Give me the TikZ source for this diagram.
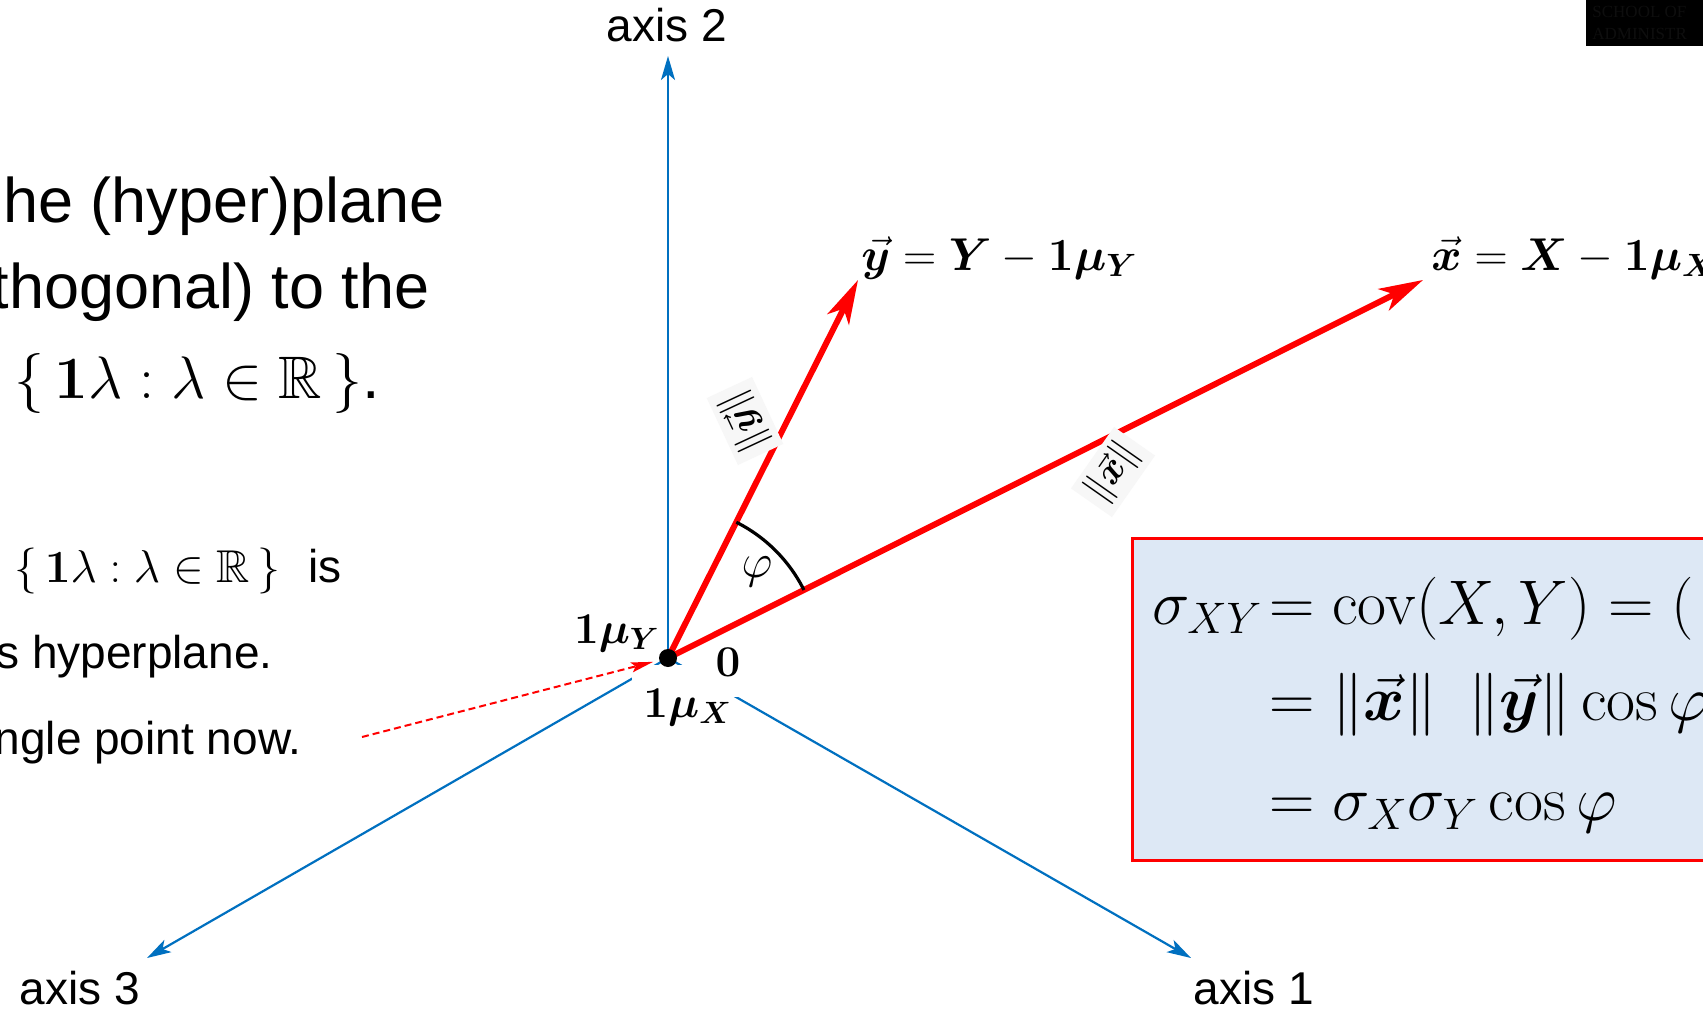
\RequirePackage{fix-cm}
\documentclass[tikz,border=0pt]{standalone}
\usepackage{amsmath,amssymb,bm}
\usepackage[no-math]{fontspec}
\setmainfont{Liberation Sans}
\newfontfamily\capserif{Liberation Serif}
\usetikzlibrary{arrows.meta}
\definecolor{axisblue}{RGB}{0,112,192}
\definecolor{boxfill}{RGB}{221,232,245}
\definecolor{vred}{RGB}{255,0,0}
\definecolor{logotext}{RGB}{14,14,14}
\newcommand\fsz[1]{\fontsize{#1}{#1}\selectfont}
\begin{document}
\begin{tikzpicture}[x=0.5pt,y=-0.5pt,
  axisline/.style={draw=axisblue,line width=1.1pt,-{Stealth[length=12pt,width=7pt,inset=3pt]}},
  vecline/.style={draw=vred,line width=3pt,-{Stealth[length=22pt,width=12pt,inset=6pt]}},
  dasharrow/.style={draw=vred,line width=1pt,dash pattern=on 3.5pt off 2pt,shorten >=3pt,-{Stealth[length=11pt,width=5pt,inset=2pt]}},
  axlabel/.style={font=\fsz{23pt},inner sep=0pt,anchor=base},
  bigtext/.style={font=\fsz{31.5pt},inner sep=0pt,anchor=base east},
  midtext/.style={font=\fsz{23pt},inner sep=0pt,anchor=base east},
  eqtext/.style={font=\fsz{31.5pt},inner sep=0pt,anchor=base west},
  ptlabel/.style={font=\fsz{22pt},inner sep=0pt},
  veclabel/.style={font=\fsz{23pt},inner sep=0pt,anchor=base west},
  normlabel/.style={font=\fsz{19pt},fill=white!97!black,inner sep=3pt},
  logolabel/.style={font=\capserif\fsz{8.5pt},text=logotext,inner sep=0pt,anchor=base west},
]
\useasboundingbox (0,0) rectangle (1703,1011);
\clip (0,0) rectangle (1703,1011);
\fill[white] (0,0) rectangle (1703,1011);

% left texts
\node[bigtext] (t1) at (445,222) {he (hyper)plane};
\node[bigtext] (t2) at (430,308) {thogonal) to the};
\node[bigtext] (t3) at (380,398) {{\fsz{30pt}$\{\,\mathbf{1}\lambda : \lambda \in \mathbb{R}\,\}$}.};
\node[midtext] (t4) at (342,582) {$\{\,\mathbf{1}\lambda : \lambda\in\mathbb{R}\,\}$\hspace{14pt}is};
\node[midtext] (t5) at (273,668) {s hyperplane.};
\node[midtext] (t6) at (302,754) {ngle point now.};

% top-right dark block
\node[fill=black,inner sep=0pt,minimum width=62pt,minimum height=23pt,anchor=north west] (logo) at (1586,0) {};
\node[logolabel] (logo1) at (1592,18) {SCHOOL OF};
\node[logolabel] (logo2) at (1592,40) {ADMINISTR};

% coordinates
\coordinate (O) at (668,658);
\coordinate (A1) at (1191,958);
\coordinate (A2) at (668,56);
\coordinate (A3) at (147,958);
\coordinate (Y) at (858,280);
\coordinate (X) at (1423,280);
\coordinate (dstart) at (362,737);

% axes
\draw[axisline] (O) -- (A1);
\draw[axisline] (O) -- (A2);
\draw[axisline] (O) -- (A3);
\node[axlabel] (l2) at (667,42) {axis 2};
\node[axlabel] (l3) at (80,1004) {axis 3};
\node[axlabel] (l1) at (1254,1004) {axis 1};

% label backgrounds near the origin
\fill[white] (632,665) rectangle (726,740);
\fill[white] (686,641) rectangle (746,697);
\node[ptlabel,anchor=base east] (muY) at (660,643) {$\mathbf{1}\bm{\mu}_{\bm{Y}}$};
\node[ptlabel,anchor=base west] (muX) at (643,717) {$\mathbf{1}\bm{\mu}_{\bm{X}}$};
\node[ptlabel,anchor=base] (zero) at (728,676) {$\mathbf{0}$};

% vectors
\draw[vecline] (O) -- (Y);
\draw[vecline] (O) -- (X);
\draw[line width=1.6pt] plot[domain=26.6:63.3,samples=40] ({668+152*cos(\x)},{658-152*sin(\x)});
\node[font=\fsz{24pt},inner sep=0pt] (phi) at (757,572) {$\varphi$};
\node[normlabel,rotate=115] (ny) at (745,421) {$\|\vec{\bm y}\|$};
\node[normlabel,rotate=55] (nx) at (1113,472) {$\|\vec{\bm x}\|$};
\node[veclabel] (ylab) at (861,270) {$\vec{\bm y} = \bm{Y} - \mathbf{1}\bm{\mu}_{\bm Y}$};
\node[veclabel] (xlab) at (1431,270) {$\vec{\bm x} = \bm{X} - \mathbf{1}\bm{\mu}_{\bm X}$};

% origin dot and dashed pointer
\node[circle,fill=black,inner sep=0pt,minimum size=9pt] (dot) at (O) {};
\draw[dasharrow] (dstart) -- (dot);

% covariance box
\node[draw=vred,line width=1.5pt,fill=boxfill,inner sep=0pt,minimum width=300pt,minimum height=161pt,anchor=north west] (box) at (1131,537) {};
\node[eqtext] (e0) at (1152,624) {$\sigma_{XY}$};
\node[eqtext] (e1) at (1269,624) {$= \mathrm{cov}(X,Y) = ($};
\node[eqtext] (e2) at (1269,720) {$= \|\vec{\bm x}\|\enspace\|\vec{\bm y}\|\cos\varphi$};
\node[eqtext] (e3) at (1269,820) {$= \sigma_X\sigma_Y\cos\varphi$};
\end{tikzpicture}
\end{document}
